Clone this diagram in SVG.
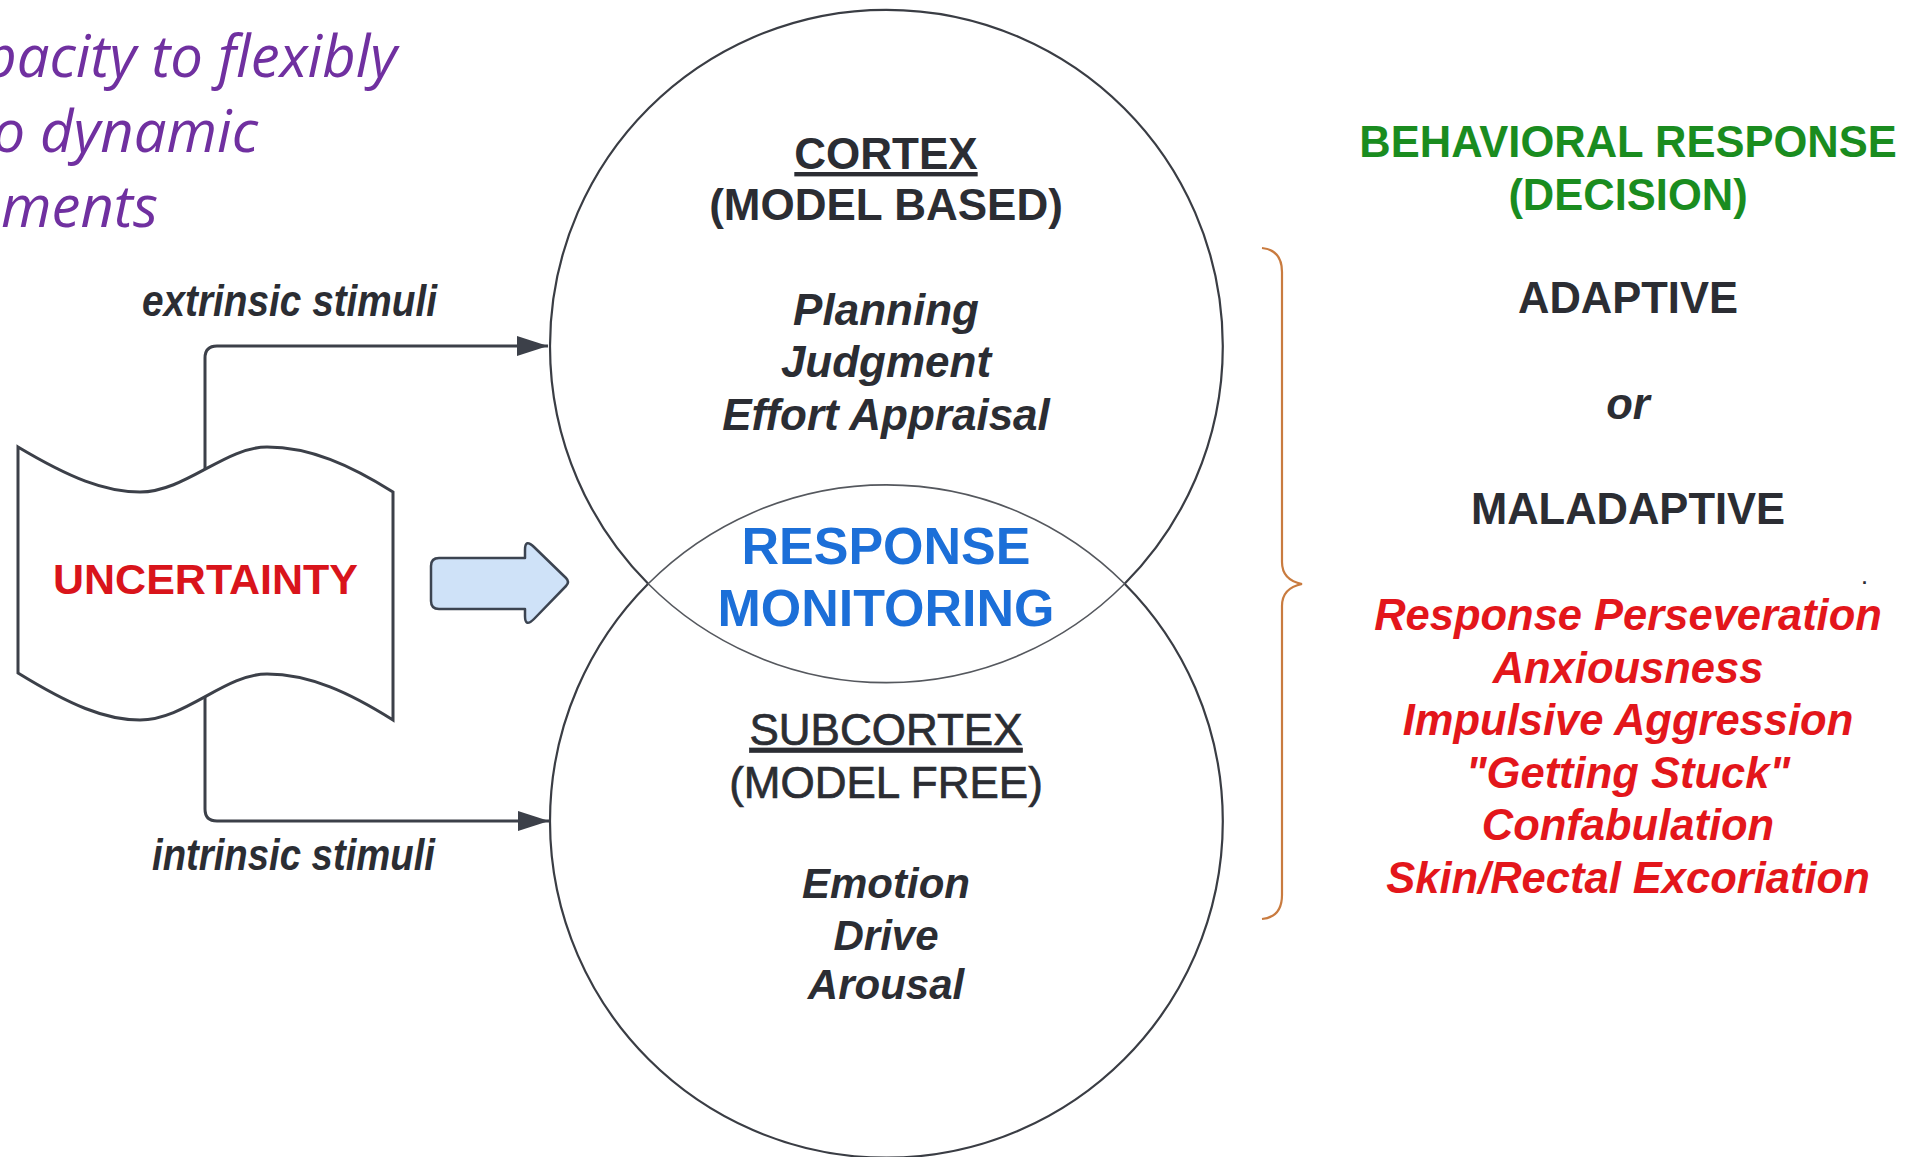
<svg xmlns="http://www.w3.org/2000/svg" width="1908" height="1157" viewBox="0 0 1908 1157">
  <style>
    .sans { font-family: "Liberation Sans", Arial, sans-serif; }
    .dark { fill: #2b2d33; }
    .b { font-weight: bold; }
    .i { font-style: italic; }
    .c { text-anchor: middle; }
    .purple { font-family: "Open Sans", "Noto Sans", sans-serif; font-style: italic; fill: #7030a0; font-size: 58px; text-anchor: end; }
    .conn { fill: none; stroke: #3c4049; stroke-width: 3; }
    .outer { fill: none; stroke: #3a3d44; stroke-width: 2.2; }
    .lens { fill: none; stroke: #55585e; stroke-width: 1.6; }
    .red { fill: #e3161b; }
    .med { stroke: #2b2d33; stroke-width: 0.7; }
  </style>
  <defs>
    <marker id="arrow" markerUnits="userSpaceOnUse" viewBox="0 0 31 20" refX="31" refY="10" markerWidth="31" markerHeight="20" orient="auto">
      <path d="M0,0 L31,10 L0,20 Z" fill="#3c4049"/>
    </marker>
  </defs>
  <rect width="1908" height="1157" fill="#ffffff"/>

  <g id="title-fragment">
    <text class="purple" x="397" y="77">pacity to flexibly</text>
    <text class="purple" x="258" y="152">o dynamic</text>
    <text class="purple" x="158" y="227">ments</text>
  </g>

  <g id="circles">
    <circle cx="886.4" cy="346.2" r="336.4" fill="#ffffff" stroke="none"/>
    <circle cx="886.4" cy="821.3" r="336.4" fill="#ffffff" stroke="none"/>
  </g>

  <g id="connectors">
    <path class="conn" d="M205,560 L205,358 Q205,346 217,346 L548,346" marker-end="url(#arrow)"/>
    <path class="conn" d="M205,600 L205,809 Q205,821 217,821 L549,821" marker-end="url(#arrow)"/>
    <path id="block-arrow" d="M439,558 L525,558 L525,550 Q525,538 534,547 L566,578 Q570,582 566,586 L534,619 Q525,628 525,616 L525,609 L439,609 Q431,609 431,601 L431,566 Q431,558 439,558 Z" fill="#cfe2f8" stroke="#3c4451" stroke-width="2.5" stroke-linejoin="round"/>
    <text class="sans b i dark c" x="289.5" y="316" font-size="44" textLength="295" lengthAdjust="spacingAndGlyphs" fill="#363a42">extrinsic stimuli</text>
    <text class="sans b i dark c" x="293.5" y="870" font-size="44" textLength="283" lengthAdjust="spacingAndGlyphs" fill="#363a42">intrinsic stimuli</text>
  </g>

  <g id="uncertainty">
    <path d="M18,447 C70,478 105,492 140,492 C185,492 225,447 267,447 C310,447 350,465 393,492 L393,720 C350,693 310,674 267,674 C225,674 185,720 140,720 C105,720 70,705 18,673 Z" fill="#ffffff" stroke="#3c4049" stroke-width="3" stroke-linejoin="miter"/>
    <text class="sans b c" x="205.5" y="594" font-size="43" fill="#d9141b">UNCERTAINTY</text>
  </g>

  <g id="cortex">
    <path class="outer" d="M648.2,583.75 A336.4,336.4 0 1 1 1124.6,583.75"/>
    <text class="sans b c dark" x="886" y="169" font-size="44" text-decoration="underline">CORTEX</text>
    <text class="sans b c dark" x="886" y="220" font-size="44">(MODEL BASED)</text>
    <text class="sans b i c dark" x="886" y="325" font-size="44">Planning</text>
    <text class="sans b i c dark" x="886" y="377" font-size="44">Judgment</text>
    <text class="sans b i c dark" x="886" y="430" font-size="44">Effort Appraisal</text>
  </g>

  <g id="subcortex">
    <path class="outer" d="M1124.6,583.75 A336.4,336.4 0 1 1 648.2,583.75"/>
    <text class="sans c dark med" x="886" y="745" font-size="44" text-decoration="underline">SUBCORTEX</text>
    <text class="sans c dark med" x="886" y="798" font-size="44">(MODEL FREE)</text>
    <text class="sans b i c dark" x="886" y="898" font-size="42">Emotion</text>
    <text class="sans b i c dark" x="886" y="950" font-size="42">Drive</text>
    <text class="sans b i c dark" x="886" y="999" font-size="42">Arousal</text>
  </g>

  <g id="response-monitoring">
    <path class="lens" d="M648.2,583.75 A336.4,336.4 0 0 1 1124.6,583.75 A336.4,336.4 0 0 1 648.2,583.75 Z"/>
    <text class="sans b c" x="886" y="564" font-size="52" fill="#1c6fd8">RESPONSE</text>
    <text class="sans b c" x="886" y="626" font-size="52" fill="#1c6fd8">MONITORING</text>
  </g>

  <g id="brace">
    <path d="M1262,248 Q1282,250 1282,272 L1282,562 Q1282,580 1302,584 Q1282,588 1282,606 L1282,895 Q1282,917 1262,919" fill="none" stroke="#c97b3f" stroke-width="2.2"/>
  </g>

  <g id="behavioral-response">
    <text class="sans b c" x="1628" y="157" font-size="43.5" fill="#1a8c1f">BEHAVIORAL RESPONSE</text>
    <text class="sans b c" x="1628" y="210" font-size="43.5" fill="#1a8c1f">(DECISION)</text>
    <text class="sans b c dark" x="1628" y="313" font-size="43.5">ADAPTIVE</text>
    <text class="sans b i c dark" x="1628" y="419" font-size="43.5">or</text>
    <text class="sans b c dark" x="1628" y="524" font-size="43.5">MALADAPTIVE</text>
    <text class="sans b dark" x="1862" y="584" font-size="18">.</text>
    <text class="sans b i c red" x="1628" y="630" font-size="43.5">Response Perseveration</text>
    <text class="sans b i c red" x="1628" y="683" font-size="43.5">Anxiousness</text>
    <text class="sans b i c red" x="1628" y="735" font-size="43.5">Impulsive Aggression</text>
    <text class="sans b i c red" x="1628" y="788" font-size="43.5">"Getting Stuck"</text>
    <text class="sans b i c red" x="1628" y="840" font-size="43.5">Confabulation</text>
    <text class="sans b i c red" x="1628" y="893" font-size="43.5">Skin/Rectal Excoriation</text>
  </g>
</svg>
